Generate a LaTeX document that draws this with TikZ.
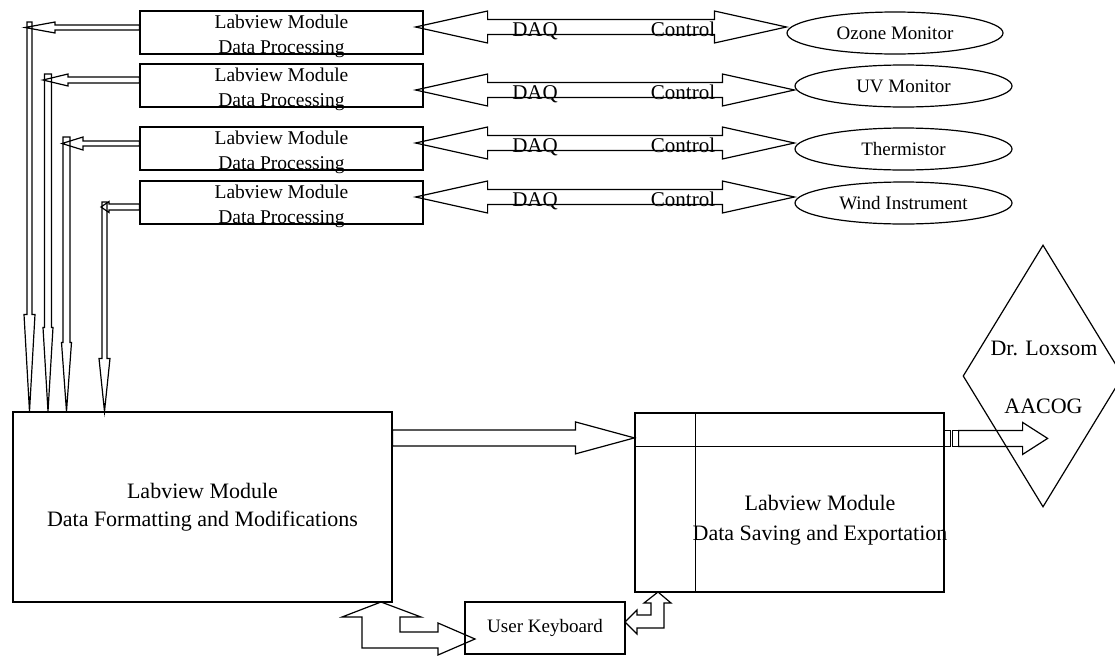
\documentclass[tikz,border=0pt]{standalone}
\usepackage{fontspec}
\setmainfont{Liberation Serif}
\usetikzlibrary{calc,shapes.geometric}

% outlined block arrow: start, tip, shaft half width, head half width, head length
\newcommand{\blockarrow}[5]{%
  \coordinate (ba-s) at (#1);
  \coordinate (ba-e) at (#2);
  \coordinate (ba-b) at ($(ba-e)!#5pt!(ba-s)$);
  \draw[blk] ($(ba-s)!#3pt!90:(ba-e)$) -- ($(ba-b)!#3pt!90:(ba-e)$)
    -- ($(ba-b)!#4pt!90:(ba-e)$) -- (ba-e) -- ($(ba-b)!#4pt!-90:(ba-e)$)
    -- ($(ba-b)!#3pt!-90:(ba-e)$) -- ($(ba-s)!#3pt!-90:(ba-e)$) -- cycle;
}
% same with a head at both ends
\newcommand{\dblarrow}[5]{%
  \coordinate (ba-s) at (#1);
  \coordinate (ba-e) at (#2);
  \coordinate (ba-a) at ($(ba-s)!#5pt!(ba-e)$);
  \coordinate (ba-b) at ($(ba-e)!#5pt!(ba-s)$);
  \draw[blk] (ba-s) -- ($(ba-a)!#4pt!90:(ba-e)$) -- ($(ba-a)!#3pt!90:(ba-e)$)
    -- ($(ba-b)!#3pt!90:(ba-e)$) -- ($(ba-b)!#4pt!90:(ba-e)$) -- (ba-e)
    -- ($(ba-b)!#4pt!-90:(ba-e)$) -- ($(ba-b)!#3pt!-90:(ba-e)$)
    -- ($(ba-a)!#3pt!-90:(ba-e)$) -- ($(ba-a)!#4pt!-90:(ba-e)$) -- cycle;
}

\begin{document}
\begin{tikzpicture}[x=1pt, y=-1pt,
  blk/.style={draw, line width=1.2pt, line join=miter},
  modbox/.style={draw, line width=1.2pt, inner sep=0pt},
  procbox/.style={modbox, minimum width=283pt, minimum height=43pt},
  dev/.style={ellipse, draw, line width=1.2pt, minimum width=217pt, minimum height=42pt, inner sep=0pt, font=\fontsize{19}{22}\selectfont},
  proctext/.style={align=center, inner sep=0pt, font=\fontsize{19.5}{25}\selectfont},
  modtext/.style={align=center, inner sep=0pt, font=\fontsize{22}{28}\selectfont},
  lbl/.style={inner sep=0pt, font=\fontsize{21}{24}\selectfont}]
\useasboundingbox (0,0) rectangle (1115,656);
\clip (0,0) rectangle (1115,656);

% processing modules
\foreach \i/\y in {1/32.5,2/85.5,3/148.5,4/202.5} {
  \node[procbox] (p\i) at (281.5,\y) {};
  \node[proctext] (pt\i) at ($(p\i)+(0,3.5)$) {Labview Module\\Data Processing};
}

% instruments
\node[dev, minimum width=216pt] (e1) at (895,33) {Ozone Monitor};
\node[dev] (e2) at (903.5,86) {UV Monitor};
\node[dev] (e3) at (903.5,149) {Thermistor};
\node[dev] (e4) at (903.5,203) {Wind Instrument};

% main modules
\node[modbox, modtext, minimum width=379pt, minimum height=190pt] (fmt) at (202.5,507) {Labview Module\\Data Formatting and Modifications};
\node[modbox, minimum width=309pt, minimum height=179pt] (save) at (789.5,502.5) {};
\draw[line width=1.2pt] ($(save.north west)+(61,0)$) -- ($(save.south west)+(61,0)$);
\draw[line width=1.2pt] ($(save.north west)+(0,34)$) -- ($(save.north east)+(0,34)$);
\node[modtext, font=\fontsize{22}{30}\selectfont] (savet) at (820,520) {Labview Module\\Data Saving and Exportation};

\node[modbox, minimum width=160pt, minimum height=52pt, font=\fontsize{19}{22}\selectfont] (kbd) at (545,628) {User Keyboard};

% destination
\node[diamond, draw, line width=1.2pt, minimum width=160pt, minimum height=262pt, inner sep=0pt] (dest) at (1043,376) {};
\node[lbl, font=\fontsize{22}{24}\selectfont] (dest1) at (1044,348) {Dr. Loxsom};
\node[lbl, font=\fontsize{22}{24}\selectfont] (dest2) at (1043.5,406) {AACOG};

% DAQ / Control links
\foreach \i/\ay in {1/27,2/90,3/143,4/197} {
  \coordinate (d\i) at (0,\ay);
  \dblarrow{$(p\i.east |- d\i)+(-8,0)$}{e\i.west |- d\i}{7.5}{16}{72}
  \node[lbl, anchor=base] (daq\i) at (535,\ay+9) {DAQ};
  \node[lbl, anchor=base] (ctl\i) at (683,\ay+9) {Control};
}

% data down to formatting module
\foreach \i/\x/\t/\sw/\hw/\hl in {1/29.5/22/2.5/5.5/97, 2/48/74/3.5/5/84, 3/66.5/137/3.5/5/69, 4/104.5/202/2.5/5.5/53} {
  \coordinate (j\i) at (\x,\t);
  \blockarrow{j\i}{j\i |- fmt.north}{\sw}{\hw}{\hl}
}
\foreach \i/\tx/\ty/\sw/\hw/\hl in {1/25/27.5/2.5/5.5/30, 2/43/80/3/6/25, 3/62/143.5/2.5/6.5/21, 4/101/207/3/5.5/8} {
  \coordinate (h\i) at (\tx,\ty);
  \blockarrow{p\i.west |- h\i}{h\i}{\sw}{\hw}{\hl}
}

% formatting -> saving -> export
\blockarrow{$(fmt.north east)+(0,26.5)$}{$(save.north west)+(0,25.5)$}{8}{16}{59}
\coordinate (out) at ($(save.north east)+(0,26)$);
\draw[blk] ($(out)+(0,-8)$) rectangle ($(out)+(6,8)$);
\draw[blk] ($(out)+(8,-8)$) rectangle ($(out)+(14,8)$);
\blockarrow{$(out)+(14,0)$}{$(out)+(103,0)$}{8}{16}{25}

% keyboard links
\draw[blk] (381,602) -- (421,617) -- (400,617) -- (400,632) -- (438,632) -- (438,623) -- (475,639)
  -- (438,655) -- (438,648) -- (362,648) -- (362,617) -- (342,617) -- cycle;
\draw[blk] (658,592) -- (671,603) -- (664,603) -- (664,628) -- (637,628) -- (637,634) -- (625,622)
  -- (637,610) -- (637,615) -- (651,615) -- (651,603) -- (644,603) -- cycle;
\end{tikzpicture}
\end{document}
